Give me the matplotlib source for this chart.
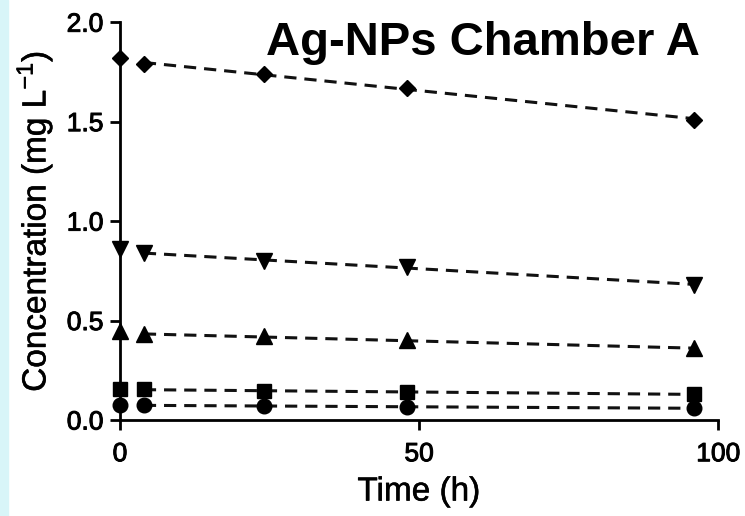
import numpy as np
import matplotlib
matplotlib.use("Agg")
import matplotlib.pyplot as plt
import matplotlib.patheffects as pe
from matplotlib.patches import Rectangle

plt.rcParams['font.family'] = ['Liberation Sans', 'DejaVu Sans']

# sampling times (h)
time_h = [0, 4, 24, 48, 96]

# concentration series (mg/L), one per starting dose
conc_diamond = [1.82, 1.79, 1.74, 1.67, 1.51]
conc_tri_down = [0.86, 0.84, 0.80, 0.77, 0.68]
conc_tri_up = [0.45, 0.43, 0.42, 0.40, 0.36]
conc_square = [0.155, 0.155, 0.145, 0.14, 0.13]
conc_circle = [0.075, 0.075, 0.07, 0.065, 0.06]

series = [
    (conc_diamond, 'D', 8.5),
    (conc_tri_down, 'v', 11),
    (conc_tri_up, '^', 11),
    (conc_square, 's', 10.5),
    (conc_circle, 'o', 10.5),
]

fig = plt.figure(figsize=(7.45, 5.16), dpi=100)
fig.patches.append(Rectangle((0, 0), 8 / 745, 1, transform=fig.transFigure,
                             color='#d8f5f8', zorder=0))
ax = fig.add_axes([0.161, 0.186, 0.803, 0.771])

t = np.array(time_h, dtype=float)
for vals, mk, ms in series:
    v = np.array(vals)
    # linear fit over the later samples, shown dashed
    k, b = np.polyfit(t[1:], v[1:], 1)
    tt = np.array([t[1], t[-1]])
    ax.plot(tt, k * tt + b, color='#111111', lw=2.2, dashes=(4, 2.6), zorder=2)
    ax.plot(t, v, linestyle='none', marker=mk, markersize=ms, color='black',
            clip_on=False, zorder=3)

ax.set_xlim(0, 100)
ax.set_ylim(0, 2.0)
ax.set_xticks([0, 50, 100])
ax.set_yticks([0.0, 0.5, 1.0, 1.5, 2.0])
ax.set_yticklabels(['0.0', '0.5', '1.0', '1.5', '2.0'])

for s in ['top', 'right']:
    ax.spines[s].set_visible(False)
for s in ['left', 'bottom']:
    ax.spines[s].set_linewidth(2.0)
ax.tick_params(direction='out', length=7, width=2.0, labelsize=19)
ax.tick_params(axis='y', pad=5)
ax.tick_params(axis='x', pad=9)

ax.set_xlabel('Time (h)', fontsize=24)
ax.set_ylabel('Concentration (mg L$^{\\mathregular{-1}}$)', fontsize=24)
ax.xaxis.label.set_va('center')
ax.yaxis.label.set_va('center')
ax.xaxis.set_label_coords(0.5, -0.181)
ax.yaxis.set_label_coords(-0.143, 0.5)

# slightly heavier strokes, like the blurred original
heavy = [pe.withStroke(linewidth=0.7, foreground='black')]
light = [pe.withStroke(linewidth=0.4, foreground='black')]
for lab in ax.get_xticklabels() + ax.get_yticklabels():
    lab.set_path_effects(heavy)
ax.xaxis.label.set_path_effects(light)
ax.yaxis.label.set_path_effects(light)

fig.text(700 / 745, (516 - 55) / 516, 'Ag-NPs Chamber A', ha='right',
         va='baseline', fontsize=34, fontweight='bold')

fig.savefig('out.png', dpi=100)
